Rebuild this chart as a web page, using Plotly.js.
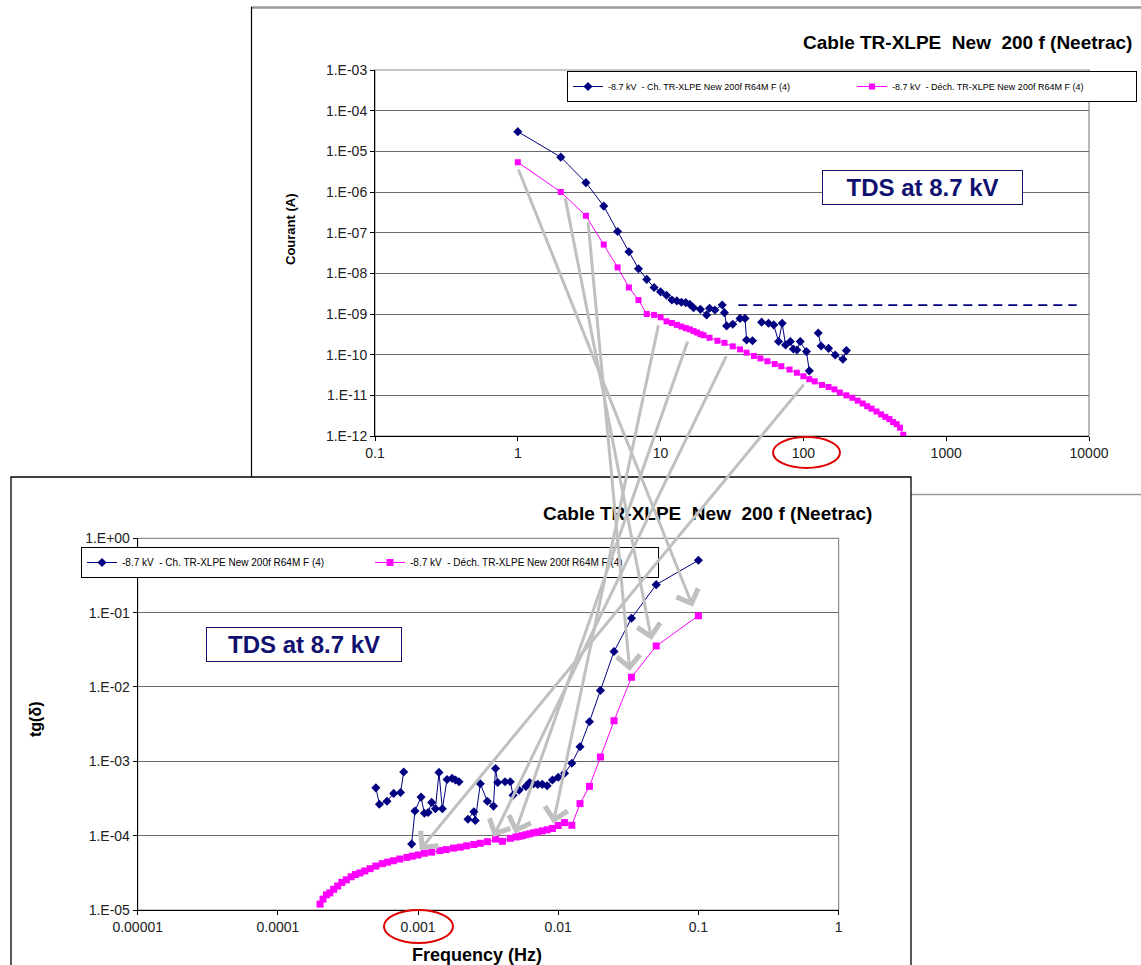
<!DOCTYPE html>
<html><head><meta charset="utf-8">
<script src="https://cdn.plot.ly/plotly-3.0.1.min.js"></script>
<style>html,body{margin:0;padding:0;background:#fff}#chart{width:1141px;height:965px}</style>
</head><body><div id="chart"></div>
<script>
// ---------------- DATA ----------------
const seriesNames = ['-8.7 kV\u00a0 - Ch. TR-XLPE New 200f R64M F (4)', '-8.7 kV\u00a0 - Déch. TR-XLPE New 200f R64M F (4)'];
const chartTitle = 'Cable TR-XLPE\u00a0 New\u00a0 200 f (Neetrac)';

// Top chart: current vs time (s)
const timeCharge = [1,2,3,4,5,6,7,8,9,10,11,12,13,14,15,16,17,19,21,22,24,27,28,29,32,36,39,40,44,47,51,57,62,67,71,75,81,85,90,95,105,110,118,127,133,150,167,189,200];
const currentCharge = [3.05e-5,7.2e-6,1.7e-6,4.5e-7,1.07e-7,3.4e-8,1.3e-8,7.1e-9,4.5e-9,3.5e-9,2.9e-9,2.2e-9,2.1e-9,1.95e-9,1.9e-9,1.73e-9,1.43e-9,1.3e-9,9.5e-10,1.38e-9,1.25e-9,1.67e-9,1.08e-9,5.1e-10,5.6e-10,7.8e-10,7.8e-10,2.3e-10,2.2e-10,null,6.3e-10,5.9e-10,5.4e-10,2.1e-10,5.9e-10,1.74e-10,2.1e-10,1.38e-10,1.3e-10,2.1e-10,1.19e-10,4.0e-11,null,3.4e-10,1.63e-10,1.43e-10,9.8e-11,7.7e-11,1.26e-10];

const timeDischarge = [1,2,3,4,5,6,7,8,9,10,11,12,13,14,15,16,17,18,19,20,22,25,28,32,36,40,45,50,56,63,70,80,90,100,110,120,135,150,165,180,200,220,240,260,280,300,325,350,375,400,425,450,475,500];
const currentDischarge = [5.4e-6,1.0e-6,2.6e-7,5.1e-8,1.4e-8,4.5e-9,2.2e-9,1.0e-9,9.5e-10,8.3e-10,6.6e-10,6.0e-10,5.4e-10,4.9e-10,4.5e-10,4.2e-10,3.8e-10,3.5e-10,3.2e-10,3.0e-10,2.6e-10,2.2e-10,1.95e-10,1.6e-10,1.35e-10,1.12e-10,9.3e-11,8.1e-11,6.9e-11,5.9e-11,5.2e-11,4.3e-11,3.6e-11,2.95e-11,2.5e-11,2.2e-11,1.8e-11,1.6e-11,1.4e-11,1.17e-11,1.0e-11,8.7e-12,7.4e-12,6.3e-12,5.4e-12,4.7e-12,4.0e-12,3.4e-12,2.95e-12,2.6e-12,2.2e-12,1.95e-12,1.6e-12,1.07e-12];

const noiseLevelTime = [35, 8200];
const noiseLevelCurrent = [1.65e-9, 1.65e-9];

// Bottom chart: tg(delta) vs frequency (Hz)
const freqCharge = [5.0e-4,5.3e-4,6.0e-4,6.7e-4,7.5e-4,7.9e-4,8.5e-4,9.0e-4,9.5e-4,1.05e-3,1.11e-3,1.18e-3,1.25e-3,1.33e-3,1.41e-3,1.49e-3,1.61e-3,1.75e-3,1.85e-3,1.96e-3,2.1e-3,2.27e-3,2.5e-3,2.56e-3,2.78e-3,3.12e-3,3.45e-3,3.57e-3,3.7e-3,4.17e-3,4.55e-3,4.76e-3,5.26e-3,5.88e-3,6.25e-3,6.67e-3,7.14e-3,7.69e-3,8.33e-3,9.09e-3,0.01,0.0111,0.0125,0.0143,0.0167,0.02,0.025,0.0333,0.05,0.1];
const tanCharge = [4.4e-4,2.65e-4,2.9e-4,3.7e-4,3.8e-4,7.2e-4,null,7.7e-5,2.15e-4,3.3e-4,2.0e-4,2.05e-4,2.8e-4,2.3e-4,7.1e-4,2.3e-4,5.7e-4,5.9e-4,5.6e-4,5.3e-4,null,1.66e-4,2.1e-4,1.6e-4,5.0e-4,2.9e-4,2.5e-4,8.0e-4,5.2e-4,5.3e-4,5.3e-4,3.5e-4,4.1e-4,4.6e-4,5.2e-4,5.0e-4,4.9e-4,4.9e-4,4.7e-4,5.6e-4,6.1e-4,6.9e-4,9.4e-4,1.57e-3,3.4e-3,9.0e-3,0.030,0.084,0.238,0.506];

const freqDischarge = [2.0e-4,2.1e-4,2.22e-4,2.35e-4,2.5e-4,2.67e-4,2.86e-4,3.08e-4,3.33e-4,3.57e-4,3.85e-4,4.17e-4,4.55e-4,5.0e-4,5.56e-4,6.06e-4,6.67e-4,7.41e-4,8.33e-4,9.09e-4,1.0e-3,1.11e-3,1.25e-3,1.43e-3,1.59e-3,1.79e-3,2.0e-3,2.22e-3,2.5e-3,2.78e-3,3.13e-3,3.57e-3,4.0e-3,4.55e-3,5.0e-3,5.26e-3,5.56e-3,5.88e-3,6.25e-3,6.67e-3,7.14e-3,7.69e-3,8.33e-3,9.09e-3,0.01,0.0111,0.0125,0.0143,0.0167,0.02,0.025,0.0333,0.05,0.1];
const tanDischarge = [1.2e-5,1.4e-5,1.6e-5,1.7e-5,1.9e-5,2.1e-5,2.35e-5,2.55e-5,2.8e-5,3.0e-5,3.15e-5,3.35e-5,3.6e-5,3.9e-5,4.2e-5,4.4e-5,4.6e-5,4.85e-5,5.1e-5,5.3e-5,5.5e-5,5.8e-5,6.0e-5,6.3e-5,6.5e-5,6.8e-5,7.0e-5,7.3e-5,7.6e-5,7.9e-5,8.3e-5,9.0e-5,8.4e-5,9.2e-5,9.6e-5,9.8e-5,1.0e-4,1.03e-4,1.06e-4,1.09e-4,1.12e-4,1.16e-4,1.2e-4,1.25e-4,1.37e-4,1.5e-4,1.38e-4,2.7e-4,4.6e-4,1.14e-3,3.5e-3,0.0135,0.0355,0.091];

// Arrows: from a point of the time-domain chart to the matching frequency
const arrowFromTime = [1.0, 2.14, 3.1, 9.7, 15.6, 29.2, 102.6];
const arrowFromCurrent = [3.9e-6, 7.6e-7, 1.95e-7, 5.7e-10, 2.3e-10, 1.0e-10, 2.0e-11];
const arrowToFreq = [0.0914, 0.0464, 0.0324, 0.0092, 0.0049, 0.00344, 0.00103];
const arrowToTan = [0.12, 0.0428, 0.0164, 1.46e-4, 1.07e-4, 9.6e-5, 6.4e-5];

const topXTicks = [0.1,1,10,100,1000,10000];
const topXLabels = ['0.1','1','10','100','1000','10000'];
const topYTicks = [1e-12,1e-11,1e-10,1e-9,1e-8,1e-7,1e-6,1e-5,1e-4,1e-3];
const topYLabels = ['1.E-12','1.E-11','1.E-10','1.E-09','1.E-08','1.E-07','1.E-06','1.E-05','1.E-04','1.E-03'];
const botXTicks = [1e-5,1e-4,1e-3,1e-2,1e-1,1];
const botXLabels = ['0.00001','0.0001','0.001','0.01','0.1','1'];
const botYTicks = [1e-5,1e-4,1e-3,1e-2,1e-1,1];
const botYLabels = ['1.E-05','1.E-04','1.E-03','1.E-02','1.E-01','1.E+00'];

// ---------------- LAYOUT GEOMETRY (pixels) ----------------
const W = 1141, H = 965;
const TOP = {L:375, R:1089, T:70, B:436, x0:-1, x1:4, y0:-12, y1:-3};
const BOT = {L:137.7, R:838.6, T:538.3, B:910, x0:-5, x1:0, y0:-5, y1:0};
const PX = x => x / W;
const PY = y => 1 - y / H;
function pxOf(P, v){ return P.L + (Math.log10(v) - P.x0) / (P.x1 - P.x0) * (P.R - P.L); }
function pyOf(P, v){ return P.T + (P.y1 - Math.log10(v)) / (P.y1 - P.y0) * (P.B - P.T); }

const FONT = 'Liberation Sans, Arial, sans-serif';
const NAVY = '#000080', PINK = '#ff00ff', BOXBLUE = '#10106e';

const traces = [
  {x: timeCharge, y: currentCharge, xaxis:'x', yaxis:'y', name: seriesNames[0], mode:'lines+markers',
   line:{color:NAVY, width:1}, marker:{symbol:'diamond', size:7, color:NAVY}, legend:'legend', hoverinfo:'skip'},
  {x: timeDischarge, y: currentDischarge, xaxis:'x', yaxis:'y', name: seriesNames[1], mode:'lines+markers',
   line:{color:PINK, width:1}, marker:{symbol:'square', size:6, color:PINK}, legend:'legend', hoverinfo:'skip'},
  {x: noiseLevelTime, y: noiseLevelCurrent, xaxis:'x', yaxis:'y', mode:'lines', showlegend:false,
   line:{color:NAVY, width:1.6, dash:'9px,6px'}, hoverinfo:'skip'},
  {x: freqCharge, y: tanCharge, xaxis:'x2', yaxis:'y2', name: seriesNames[0], mode:'lines+markers',
   line:{color:NAVY, width:1}, marker:{symbol:'diamond', size:7, color:NAVY}, legend:'legend2', hoverinfo:'skip'},
  {x: freqDischarge, y: tanDischarge, xaxis:'x2', yaxis:'y2', name: seriesNames[1], mode:'lines+markers',
   line:{color:PINK, width:1}, marker:{symbol:'square', size:7, color:PINK}, legend:'legend2', hoverinfo:'skip'}
];

function axis(P, isX, ticks, labels, anchor, grid){
  return {
    type:'log', domain: isX ? [PX(P.L), PX(P.R)] : [PY(P.B), PY(P.T)], anchor: anchor,
    range: isX ? [P.x0, P.x1] : [P.y0, P.y1], tickmode:'array', tickvals: ticks, ticktext: labels,
    showgrid: grid, gridcolor:'#6a6a6a', gridwidth:1, showline:true, linecolor:'#000', linewidth:1,
    ticks:'outside', ticklen:4, tickcolor:'#000', zeroline:false, fixedrange:true, automargin:false,
    tickfont:{family:FONT, size:14, color:'#222'}
  };
}

const shapes = [
  // top chart frame
  {type:'line', xref:'paper', yref:'paper', x0:PX(251), x1:1.02, y0:PY(7.5), y1:PY(7.5), line:{color:'#9a9a9a', width:2.5}, layer:'below'},
  {type:'line', xref:'paper', yref:'paper', x0:PX(251.5), x1:PX(251.5), y0:PY(7), y1:PY(480), line:{color:'#000', width:1.2}, layer:'below'},
  {type:'line', xref:'paper', yref:'paper', x0:PX(905), x1:1.02, y0:PY(494.5), y1:PY(494.5), line:{color:'#9a9a9a', width:1.5}, layer:'below'},
  // bottom chart frame (covers the top one)
  {type:'rect', xref:'paper', yref:'paper', x0:PX(11), x1:PX(911), y0:-0.05, y1:PY(477), fillcolor:'#fff', line:{color:'#000', width:1.3}, layer:'below'},
  // plot area borders
  {type:'rect', xref:'x domain', yref:'y domain', x0:0, x1:1, y0:0, y1:1, line:{color:'#8c8c8c', width:1.2}, layer:'below'},
  {type:'rect', xref:'x2 domain', yref:'y2 domain', x0:0, x1:1, y0:0, y1:1, line:{color:'#8c8c8c', width:1.2}, layer:'below'},
  // red highlight ellipses
  {type:'circle', xref:'paper', yref:'paper', x0:PX(773), x1:PX(840), y0:PY(468), y1:PY(437), line:{color:'#e00000', width:2}},
  {type:'circle', xref:'paper', yref:'paper', x0:PX(384), x1:PX(453), y0:PY(943), y1:PY(910), line:{color:'#e00000', width:2}}
];

const annotations = [
  {xref:'paper', yref:'paper', x:PX(1134), y:PY(42), xanchor:'right', yanchor:'middle', showarrow:false,
   text:'<b>'+chartTitle+'</b>', font:{family:FONT, size:19, color:'#000'}},
  {xref:'paper', yref:'paper', x:PX(707), y:PY(513), xanchor:'center', yanchor:'middle', showarrow:false,
   text:'<b>'+chartTitle+'</b>', font:{family:FONT, size:19, color:'#000'}},
  {xref:'paper', yref:'paper', x:PX(290), y:PY(229), xanchor:'center', yanchor:'middle', showarrow:false, textangle:-90,
   text:'<b>Courant (A)</b>', font:{family:FONT, size:13, color:'#000'}},
  {xref:'paper', yref:'paper', x:PX(35), y:PY(720), xanchor:'center', yanchor:'middle', showarrow:false, textangle:-90,
   text:'<b>tg(δ)</b>', font:{family:FONT, size:16, color:'#000'}},
  {xref:'paper', yref:'paper', x:PX(477), y:PY(955), xanchor:'center', yanchor:'middle', showarrow:false,
   text:'<b>Frequency (Hz)</b>', font:{family:FONT, size:18, color:'#000'}},
  {xref:'paper', yref:'paper', x:PX(922.5), y:PY(187.5), xanchor:'center', yanchor:'middle', showarrow:false,
   text:'<b>TDS at 8.7 kV</b>', font:{family:FONT, size:24, color:BOXBLUE}, bgcolor:'#fff',
   bordercolor:BOXBLUE, borderwidth:1, borderpad:0, width:199, height:33},
  {xref:'paper', yref:'paper', x:PX(304), y:PY(644.5), xanchor:'center', yanchor:'middle', showarrow:false,
   text:'<b>TDS at 8.7 kV</b>', font:{family:FONT, size:24, color:BOXBLUE}, bgcolor:'#fff',
   bordercolor:BOXBLUE, borderwidth:1, borderpad:0, width:194, height:33}
];

arrowFromTime.forEach((t, i) => {
  const hx = pxOf(BOT, arrowToFreq[i]), hy = pyOf(BOT, arrowToTan[i]);
  const tx = pxOf(TOP, t), ty = pyOf(TOP, arrowFromCurrent[i]);
  annotations.push({xref:'x2', yref:'y2', x:Math.log10(arrowToFreq[i]), y:Math.log10(arrowToTan[i]),
    axref:'pixel', ayref:'pixel', ax: tx - hx, ay: ty - hy, text:'', showarrow:true,
    arrowhead:4, arrowsize:1.5, arrowwidth:3, arrowcolor:'#c0c0c0', standoff:0, startstandoff:0});
});

const layout = {
  width:W, height:H, autosize:false, margin:{l:0, r:0, t:0, b:0, pad:0, autoexpand:false},
  paper_bgcolor:'#fff', plot_bgcolor:'#fff', font:{family:FONT},
  xaxis: axis(TOP, true, topXTicks, topXLabels, 'y', false),
  yaxis: axis(TOP, false, topYTicks, topYLabels, 'x', true),
  xaxis2: axis(BOT, true, botXTicks, botXLabels, 'y2', false),
  yaxis2: axis(BOT, false, botYTicks, botYLabels, 'x2', true),
  legend: {x:PX(567), y:PY(71), xanchor:'left', yanchor:'top', orientation:'h', bgcolor:'#fff',
    bordercolor:'#000', borderwidth:1, font:{family:FONT, size:9, color:'#000'}, entrywidth:239, itemwidth:30, tracegroupgap:0},
  legend2: {x:PX(81), y:PY(547), xanchor:'left', yanchor:'top', orientation:'h', bgcolor:'#fff',
    bordercolor:'#000', borderwidth:1, font:{family:FONT, size:10, color:'#000'}, entrywidth:243, itemwidth:30, tracegroupgap:0},
  shapes: shapes, annotations: annotations, showlegend:true
};

Plotly.newPlot('chart', traces, layout, {staticPlot:true, displayModeBar:false});
</script></body></html>
